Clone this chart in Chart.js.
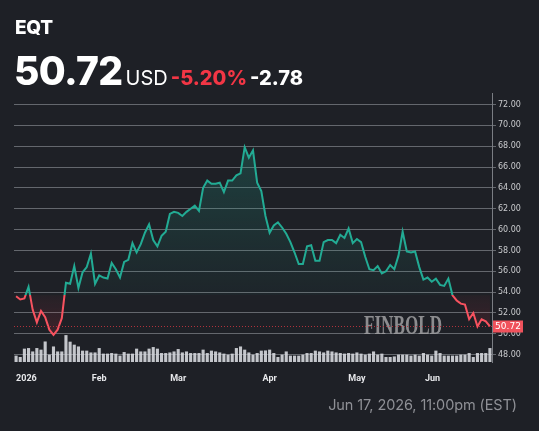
<!DOCTYPE html>
<html>
<head>
<meta charset="utf-8">
<script src="https://cdn.jsdelivr.net/npm/chart.js@4.4.1/dist/chart.umd.min.js"></script>
<style>
  html, body { margin: 0; padding: 0; background: #1e2026; }
  body { width: 539px; height: 431px; position: relative; overflow: hidden; font-family: Inter, "Open Sans", sans-serif; }
  #chart-wrap { position: absolute; left: 0; top: 0; width: 539px; height: 431px; }
  .ticker { position: absolute; left: 15px; top: 16px; color: #fff; font-weight: 800; font-size: 19px; letter-spacing: -0.3px; }
  .quote { position: absolute; left: 14px; top: 47px; color: #fff; white-space: nowrap; }
  .quote .price { font-size: 39px; font-weight: 800; letter-spacing: -0.6px; }
  .quote .cur { font-size: 20px; font-weight: 400; margin-left: 3px; }
  .quote .pct { font-size: 20px; font-weight: 800; color: #f23645; margin-left: 3px; }
  .quote .chg { font-size: 20px; font-weight: 800; margin-left: 3px; }
  .footer { position: absolute; right: 22px; top: 396px; color: #8f9096; font-size: 14.5px; letter-spacing: -0.1px; }
</style>
</head>
<body>
<div id="chart-wrap"><canvas id="eqt-chart"></canvas></div>
<div class="ticker">EQT</div>
<div class="quote"><span class="price">50.72</span><span class="cur">USD</span><span class="pct">-5.20%</span><span class="chg">-2.78</span></div>
<div class="footer">Jun 17, 2026, 11:00pm (EST)</div>

<script>
// closing prices, Jan 2 - Jun 17 2026
const closePrices = [
  53.6, 53.3, 53.4, 54.5, 52.3, 51.1, 52.2, 51.6, 50.4, 49.9,
  50.4, 51.5, 54.9, 54.8, 56.5, 54.4, 55.9, 56.4, 57.7, 54.8,
  55.6, 55.4, 55.3, 56.8, 56.2, 55.4, 56.9, 57.1, 58.7, 57.8,
  58.6, 59.7, 60.5, 59.0, 58.4, 59.4, 59.8, 61.5, 61.7, 61.6,
  61.3, 61.7, 62.0, 62.3, 61.8, 64.0, 64.7, 64.4, 64.4, 64.5,
  63.6, 64.7, 64.7, 65.2, 65.4, 67.9, 66.9, 67.6, 64.5, 63.7,
  61.3, 59.7, 60.4, 60.7, 60.2, 59.6, 58.8, 57.8, 56.7, 56.7,
  58.4, 58.5, 57.0, 57.0, 58.8, 59.0, 59.0, 58.7, 59.5, 59.2,
  60.1, 58.7, 59.1, 58.8, 57.4, 56.2, 56.1, 56.5, 55.8, 56.0,
  56.6, 56.2, 57.5, 59.8, 57.9, 57.8, 57.9, 56.4, 55.2, 55.4,
  55.0, 55.3, 54.7, 54.6, 55.3, 53.7, 53.2, 52.9, 52.8, 51.4,
  52.0, 50.7, 51.4, 51.2, 50.72
];

// volume in millions
const volumes = [
  3.2, 2.5, 6.7, 7.0, 5.3, 7.0, 6.2, 10.3, 3.7, 7.8,
  5.3, 5.3, 13.5, 10.2, 8.7, 7.8, 5.7, 5.7, 4.8, 4.8,
  7.0, 4.2, 4.2, 4.5, 4.2, 3.2, 5.0, 4.2, 4.2, 6.7,
  5.3, 5.3, 6.7, 7.5, 6.7, 4.5, 4.5, 4.8, 5.3, 6.5,
  4.8, 5.3, 4.5, 4.5, 4.5, 6.2, 4.5, 5.7, 5.3, 4.8,
  4.2, 3.7, 4.2, 7.0, 7.8, 6.2, 4.8, 3.7, 4.5, 5.7,
  5.8, 6.2, 4.5, 2.5, 3.7, 5.3, 3.2, 3.2, 3.2, 3.7,
  4.5, 4.5, 5.7, 5.3, 4.8, 5.7, 5.3, 4.8, 4.5, 4.2,
  4.5, 4.2, 4.8, 4.2, 3.7, 4.2, 5.3, 3.7, 4.2, 2.5,
  2.5, 2.8, 3.7, 3.7, 3.7, 3.2, 3.7, 3.2, 4.5, 3.7,
  3.2, 5.7, 4.5, 3.2, 3.2, 3.2, 3.2, 3.7, 3.7, 4.5,
  2.5, 4.5, 4.5, 4.5, 7.0
];

const holidays = ['2026-01-19', '2026-02-16', '2026-04-03', '2026-05-25'];
const monthTicks = { '2026-01-02': '2026', '2026-02-02': 'Feb', '2026-03-02': 'Mar', '2026-04-01': 'Apr', '2026-05-01': 'May', '2026-06-01': 'Jun' };
const yTickValues = [48, 50, 52, 54, 56, 58, 60, 62, 64, 66, 68, 70, 72];

const baseline = 53.7;
const lastPrice = 50.72;

// trading days from Jan 2 to Jun 17
function tradingDays(from, to) {
  const out = [];
  const d = new Date(from + 'T12:00:00Z');
  const end = new Date(to + 'T12:00:00Z');
  while (d <= end) {
    const iso = d.toISOString().slice(0, 10);
    const wd = d.getUTCDay();
    if (wd !== 0 && wd !== 6 && !holidays.includes(iso)) out.push(iso);
    d.setUTCDate(d.getUTCDate() + 1);
  }
  return out;
}
const dates = tradingDays('2026-01-02', '2026-06-17');

const green = '#22ab94';
const red = '#f7525f';

function lineColor(ctx) {
  const chart = ctx.chart;
  const { chartArea, scales } = chart;
  if (!chartArea) return green;
  const yb = scales.y.getPixelForValue(baseline);
  const stop = Math.min(Math.max((yb - chartArea.top) / (chartArea.bottom - chartArea.top), 0), 1);
  const g = chart.ctx.createLinearGradient(0, chartArea.top, 0, chartArea.bottom);
  g.addColorStop(0, green);
  g.addColorStop(stop, green);
  g.addColorStop(stop, red);
  g.addColorStop(1, red);
  return g;
}

function areaColor(ctx) {
  const chart = ctx.chart;
  const { chartArea, scales } = chart;
  if (!chartArea) return 'rgba(34,171,148,0.1)';
  const yb = scales.y.getPixelForValue(baseline);
  const stop = Math.min(Math.max((yb - chartArea.top) / (chartArea.bottom - chartArea.top), 0), 1);
  const g = chart.ctx.createLinearGradient(0, chartArea.top, 0, chartArea.bottom);
  g.addColorStop(0, 'rgba(34,171,148,0.30)');
  g.addColorStop(stop, 'rgba(34,171,148,0.04)');
  g.addColorStop(stop, 'rgba(242,54,69,0.04)');
  g.addColorStop(1, 'rgba(242,54,69,0.24)');
  return g;
}

const extras = {
  id: 'extras',
  beforeDatasetsDraw(chart) {
    const { ctx } = chart;
    // watermark
    ctx.save();
    ctx.font = 'bold 27px "Liberation Serif", serif';
    ctx.fillStyle = 'rgba(160,160,162,0.85)';
    ctx.textBaseline = 'alphabetic';
    const w = ctx.measureText('FINBOLD').width;
    ctx.translate(364, 334);
    ctx.scale(78 / w, 1);
    ctx.fillText('FINBOLD', 0, 0);
    ctx.restore();
  },
  afterDatasetsDraw(chart) {
    const { ctx, chartArea, scales } = chart;
    const y = Math.round(scales.y.getPixelForValue(lastPrice)) + 0.5;
    ctx.save();
    ctx.strokeStyle = '#b0323c';
    ctx.lineWidth = 1;
    ctx.setLineDash([1, 2]);
    ctx.beginPath();
    ctx.moveTo(chartArea.left, y);
    ctx.lineTo(chartArea.right, y);
    ctx.stroke();
    ctx.setLineDash([]);
    ctx.fillStyle = '#f0525c';
    ctx.fillRect(chartArea.right + 1, y - 6, 30, 12);
    ctx.fillStyle = '#ffffff';
    ctx.font = '9px "DejaVu Sans", sans-serif';
    ctx.textAlign = 'center';
    ctx.textBaseline = 'middle';
    ctx.fillText(lastPrice.toFixed(2), chartArea.right + 16, y + 0.5);
    ctx.restore();
  }
};

new Chart(document.getElementById('eqt-chart'), {
  data: {
    labels: dates,
    datasets: [
      {
        type: 'line',
        label: 'EQT',
        data: closePrices,
        yAxisID: 'y',
        borderColor: lineColor,
        backgroundColor: areaColor,
        borderWidth: 2,
        pointRadius: 0,
        tension: 0,
        fill: { target: { value: baseline } },
        order: 1
      },
      {
        type: 'bar',
        label: 'Volume',
        data: volumes,
        yAxisID: 'vol',
        backgroundColor: 'rgba(214,216,222,0.9)',
        barPercentage: 0.75,
        categoryPercentage: 1,
        order: 2
      }
    ]
  },
  options: {
    responsive: true,
    maintainAspectRatio: false,
    animation: false,
    layout: { padding: { top: 93, left: 14, right: 0, bottom: 0 } },
    plugins: { legend: { display: false }, tooltip: { enabled: false } },
    scales: {
      x: {
        offset: true,
        grid: { display: false },
        border: { display: false },
        ticks: {
          autoSkip: false,
          maxRotation: 0,
          align: 'inner',
          padding: 3,
          color: '#e6e7ea',
          font: { family: 'Roboto', size: 9, weight: 'bold' },
          callback: (v, i) => monthTicks[dates[i]] ?? null
        },
        afterFit: s => { s.height = 69; }
      },
      y: {
        position: 'right',
        min: 47.3,
        max: 73.1,
        afterBuildTicks: s => { s.ticks = yTickValues.map(v => ({ value: v })); },
        grid: { color: '#64676d', lineWidth: 1, tickLength: 4 },
        border: { display: true, color: '#7a7d83' },
        ticks: {
          padding: 2,
          color: '#c9cacd',
          font: { family: '"DejaVu Sans"', size: 8 },
          callback: v => Number(v).toFixed(2)
        },
        afterFit: s => { s.width = 47; }
      },
      vol: {
        display: false,
        min: 0,
        max: 135
      }
    }
  },
  plugins: [extras]
});
</script>
</body>
</html>
